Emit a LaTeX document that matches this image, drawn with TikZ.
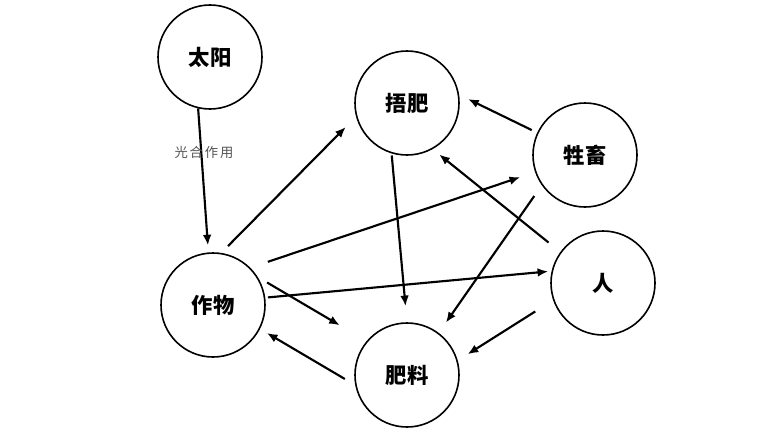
\documentclass[tikz,border=0pt]{standalone}
\usepackage{fontspec}
\newfontfamily\cjk{Noto Sans CJK SC}
\usetikzlibrary{arrows.meta}
\definecolor{lgrey}{RGB}{85,85,85}

\begin{document}
\begin{tikzpicture}[x=0.75pt,y=-0.75pt,
  blob/.style={draw, circle, line width=1.2pt, minimum size=78pt, inner sep=0pt, font=\cjk\bfseries\fontsize{16pt}{16pt}\selectfont},
  arr/.style={line width=1.6pt, -{Latex[length=8pt,width=6.5pt]}}]

\useasboundingbox (0,0) rectangle (780,432);

%circles:
\node[blob] (S) at (210,57) {太阳};
\node[blob] (W) at (407,103) {捂肥};
\node[blob] (L) at (585,155) {牲畜};
\node[blob] (C) at (213,305) {作物};
\node[blob] (H) at (603,283) {人};
\node[blob] (F) at (407,375) {肥料};

%sun to crop
\draw[arr, shorten >=5.25pt] (S.257) -- (C.95);
\node[text=lgrey, font=\cjk\fontsize{10pt}{11pt}\selectfont\addfontfeature{LetterSpace=14}] (ps) at (204,152) {光合作用};

%from crop
\draw[arr, shorten <=7.2pt, shorten >=10.9pt] (C.81.7) -- (W.195.7);
\draw[arr, shorten <=13.8pt, shorten >=11.8pt] (C.45.6) -- (L.199);
\draw[arr, shorten <=8.1pt, shorten >=23.3pt] (C.32.2) -- (F.140.4);
\draw[arr, shorten <=2pt, shorten >=2.5pt] (C.8.3) -- (H.167.7);

%back to crop
\draw[arr, shorten <=9pt, shorten >=5.9pt] (F.191.7) -- (C.-27.4);

%to wufei / fertilizer
\draw[arr, shorten <=1.5pt, shorten >=12pt] (W.253) -- (F.90);
\draw[arr, shorten <=4.5pt, shorten >=7.4pt] (L.155.6) -- (W.9.3);
\draw[arr, shorten <=11.3pt, shorten >=6.3pt] (H.144) -- (W.-61.3);
\draw[arr, shorten <=9.8pt, shorten >=9.3pt] (L.215.6) -- (F.53.8);
\draw[arr, shorten <=15.8pt, shorten >=8.7pt] (H.199.7) -- (F.16.4);

\end{tikzpicture}
\end{document}
